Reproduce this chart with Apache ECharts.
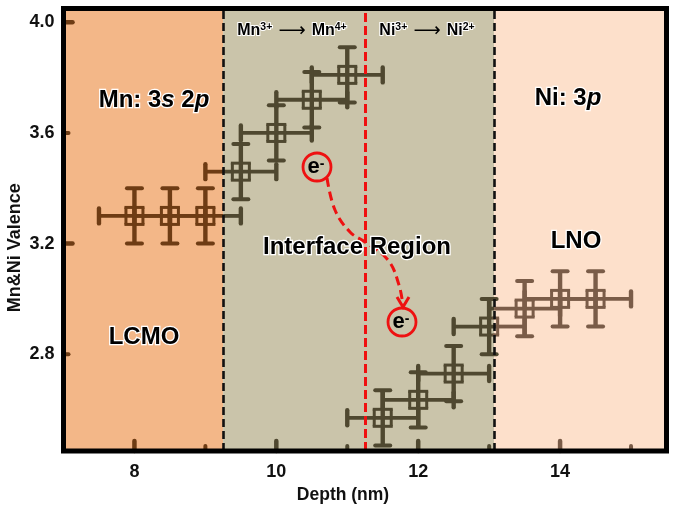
<!DOCTYPE html>
<html><head><meta charset="utf-8">
<style>html,body{margin:0;padding:0;background:#fff}#c{width:675px;height:510px}</style>
<script src="https://cdn.jsdelivr.net/npm/echarts@6/dist/echarts.min.js"></script>
</head><body><div id="c"></div>
<script>
const depthMn = [8, 8.5, 9, 9.5, 10, 10.5, 11];
const valenceMn = [3.3, 3.3, 3.3, 3.46, 3.6, 3.72, 3.81];
const depthNi = [11.5, 12, 12.5, 13, 13.5, 14, 14.5];
const valenceNi = [2.57, 2.635, 2.73, 2.9, 2.965, 3.0, 3.0];
const errDepth = 0.5;
const errValence = 0.1;
const boundaryLeft = 9.25, boundaryRight = 13.07, boundaryRed = 11.25;
const xLabels = [8, 10, 12, 14];
const xMinorTicks = [9, 11, 13, 15];
const yLabels = [2.8, 3.2, 3.6, 4.0];
const yMajorTicks = [3.2, 4.0];
const yMinorTicks = [2.8, 3.6];

const FONT = '"Liberation Sans", Arial, sans-serif';
const cLCMO = '#6e3c14', cIF = '#4f4830', cLNO = '#7a5c48';
const colorAt = x => x < boundaryLeft ? cLCMO : (x < boundaryRight ? cIF : cLNO);

function hSeg(api, x0, x1, y, width, cap) {
  const stops = [x0];
  [boundaryLeft, boundaryRight].forEach(b => { if (b > x0 && b < x1) stops.push(b); });
  stops.push(x1);
  const out = [];
  for (let i = 0; i < stops.length - 1; i++) {
    const a = api.coord([stops[i], y]), b = api.coord([stops[i + 1], y]);
    out.push({type: 'line', shape: {x1: a[0], y1: a[1], x2: b[0], y2: b[1]},
      style: {stroke: colorAt((stops[i] + stops[i + 1]) / 2), lineWidth: width, lineCap: cap || 'butt', fill: null}});
  }
  return out;
}
function errorItem(params, api) {
  const x = api.value(0), y = api.value(1);
  const p = api.coord([x, y]);
  const pL = api.coord([x - errDepth, y]), pR = api.coord([x + errDepth, y]);
  const pT = api.coord([x, y + errValence]), pB = api.coord([x, y - errValence]);
  const kids = [];
  const line = (x1, y1, x2, y2, c, w, cap) => kids.push({type: 'line', shape: {x1, y1, x2, y2},
    style: {stroke: c, lineWidth: w, lineCap: cap || 'butt', fill: null}});
  kids.push(...hSeg(api, x - errDepth, x + errDepth, y, 3.8));
  const cx = colorAt(x), capH = 7.5;
  line(p[0], pT[1], p[0], pB[1], cx, 4.4);
  line(pL[0], p[1] - capH, pL[0], p[1] + capH, colorAt(x - errDepth), 4.4, 'round');
  line(pR[0], p[1] - capH, pR[0], p[1] + capH, colorAt(x + errDepth), 4.4, 'round');
  line(p[0] - capH, pT[1], p[0] + capH, pT[1], cx, 4, 'round');
  line(p[0] - capH, pB[1], p[0] + capH, pB[1], cx, 4, 'round');
  const s = 8.5;
  const dx = s * (errDepth / (pR[0] - p[0]));
  const dy = s * (errValence / (pB[1] - p[1]));
  kids.push(...hSeg(api, x - dx, x + dx, y + dy, 3, 'square'));
  kids.push(...hSeg(api, x - dx, x + dx, y - dy, 3, 'square'));
  line(p[0] - s, p[1] - s, p[0] - s, p[1] + s, colorAt(x - dx), 3);
  line(p[0] + s, p[1] - s, p[0] + s, p[1] + s, colorAt(x + dx), 3);
  return {type: 'group', children: kids};
}
function tickItems(params, api) {
  const cs = params.coordSys, kids = [];
  const bottom = cs.y + cs.height, left = cs.x;
  const add = (x1, y1, x2, y2, c, w) => kids.push({type: 'line', shape: {x1, y1, x2, y2},
    style: {stroke: c, lineWidth: w, lineCap: 'round', fill: null}});
  xLabels.forEach(v => { const px = api.coord([v, 3])[0]; add(px, bottom, px, bottom - 10, colorAt(v), 4.5); });
  xMinorTicks.forEach(v => { const px = api.coord([v, 3])[0]; add(px, bottom, px, bottom - 5, colorAt(v), 4); });
  yMajorTicks.forEach(v => { const py = api.coord([8, v])[1]; add(left, py, left + 9, py, cLCMO, 4.5); });
  yMinorTicks.forEach(v => { const py = api.coord([8, v])[1]; add(left, py, left + 5, py, cLCMO, 4); });
  return {type: 'group', children: kids};
}
function frameItem(params) {
  const cs = params.coordSys;
  return {type: 'rect', shape: {x: cs.x, y: cs.y, width: cs.width, height: cs.height},
    style: {fill: null, stroke: '#000', lineWidth: 5}};
}

const big = {fontFamily: FONT, fontWeight: 'bold', fontSize: 24, fill: '#000', stroke: '#fff', lineWidth: 2.5};
const bigI = Object.assign({}, big, {fontStyle: 'italic'});
const small = {fontFamily: FONT, fontWeight: 'bold', fontSize: 16, fill: '#000', stroke: '#fff', lineWidth: 2, lineHeight: 18, verticalAlign: 'middle'};
const sup = Object.assign({}, small, {fontSize: 10.5, verticalAlign: 'top', lineHeight: 18});
const arrowTok = Object.assign({}, small, {fontFamily: '"DejaVu Sans"', fontWeight: 'normal', fontSize: 19, stroke: 'none', lineWidth: 0});
const richAll = {b: big, i: bigI, s: small, u: sup, a: arrowTok};

function label(x, y, text) {
  return {type: 'text', x, y, z: 100, style: {text, rich: richAll, align: 'center', verticalAlign: 'middle', fill: '#000',
    font: 'bold 24px ' + FONT, stroke: '#fff', lineWidth: 2.5}};
}
function electron(x, y) {
  return [
    {type: 'circle', z: 90, shape: {cx: x, cy: y, r: 14}, style: {fill: 'rgba(255,255,255,0.0)', stroke: '#ee1111', lineWidth: 2.8}},
    {type: 'text', x: x - 1, y: y, z: 100, style: {text: '{e|e}{m|-}', align: 'center', verticalAlign: 'middle',
      rich: {e: {fontFamily: FONT, fontWeight: 'bold', fontSize: 22, fill: '#000', lineHeight: 20, verticalAlign: 'middle'},
             m: {fontFamily: FONT, fontWeight: 'bold', fontSize: 14, fill: '#000', lineHeight: 20, verticalAlign: 'top'}}}}
  ];
}

const chart = echarts.init(document.getElementById('c'), null, {renderer: 'canvas'});
chart.setOption({
  animation: false,
  backgroundColor: '#fff',
  grid: {left: 63.5, right: 8.5, top: 8.5, bottom: 59, show: false, outerBoundsMode: 'none', containLabel: false},
  xAxis: {type: 'value', min: 7, max: 15.5, name: 'Depth (nm)', nameLocation: 'middle', nameGap: 34,
    nameTextStyle: {fontFamily: FONT, fontWeight: 'bold', fontSize: 17.5, color: '#111', padding: [0, 44, 0, 0]},
    axisLine: {show: false}, axisTick: {show: false}, splitLine: {show: false}, minorTick: {show: false},
    axisLabel: {customValues: xLabels, margin: 12, fontFamily: FONT, fontWeight: 'bold', fontSize: 18, color: '#111'}},
  yAxis: {type: 'value', min: 2.45, max: 4.05, name: 'Mn&Ni Valence', nameLocation: 'middle', nameGap: 39, nameMoveOverlap: false,
    nameTextStyle: {fontFamily: FONT, fontWeight: 'bold', fontSize: 18, color: '#111', padding: [0, 36, 0, 0]},
    axisLine: {show: false}, axisTick: {show: false}, splitLine: {show: false},
    axisLabel: {customValues: yLabels, margin: 9, fontFamily: FONT, fontWeight: 'bold', fontSize: 18, color: '#111',
      formatter: v => v.toFixed(1)}},
  graphic: {elements: [
    label(154, 100, '{b|Mn: 3}{i|s}{b| 2}{i|p}'),
    label(568, 98, '{b|Ni: 3}{i|p}'),
    label(144, 337, '{b|LCMO}'),
    label(576, 241, '{b|LNO}'),
    label(357, 247, '{b|Interface Region}'),
    label(292, 31, '{s|Mn}{u|3+}{a| ⟶ }{s|Mn}{u|4+}'),
    label(427, 31, '{s|Ni}{u|3+}{a| ⟶ }{s|Ni}{u|2+}'),
    ...electron(317, 167),
    ...electron(402, 322),
    {type: 'polyline', z: 80, shape: {points: [[327, 178], [335, 210], [350, 232], [365, 242], [388, 260], [399, 285], [403, 306]], smooth: 0.4},
      style: {fill: null, stroke: '#ee1111', lineWidth: 3, lineDash: [9, 5]}},
    {type: 'polyline', z: 81, shape: {points: [[397, 297], [403, 307], [409, 297]]},
      style: {fill: null, stroke: '#ee1111', lineWidth: 3}}
  ]},
  series: [
    {type: 'custom', name: 'regions', z: 1, coordinateSystem: 'cartesian2d', data: [], renderItem: () => null,
      markArea: {silent: true, z: 1, label: {show: false}, data: [
        [{xAxis: 7, itemStyle: {color: '#f3b788', opacity: 1}}, {xAxis: boundaryLeft}],
        [{xAxis: boundaryLeft, itemStyle: {color: '#cac4aa', opacity: 1}}, {xAxis: boundaryRight}],
        [{xAxis: boundaryRight, itemStyle: {color: '#fde0cb', opacity: 1}}, {xAxis: 15.5}]
      ]}},
    {type: 'custom', name: 'Mn', z: 3, renderItem: errorItem, encode: {x: 0, y: 1},
      data: depthMn.map((d, i) => [d, valenceMn[i]])},
    {type: 'custom', name: 'Ni', z: 3, renderItem: errorItem, encode: {x: 0, y: 1},
      data: depthNi.map((d, i) => [d, valenceNi[i]])},
    {type: 'custom', name: 'ticks', z: 4, renderItem: tickItems, data: [[8, 3]], encode: {x: 0, y: 1}},
    {type: 'line', name: 'boundaries', z: 5, data: [], symbol: 'none',
      markLine: {silent: true, symbol: 'none', label: {show: false}, animation: false, data: [
        {xAxis: boundaryLeft, lineStyle: {color: '#111', width: 2.6, type: [8, 4]}},
        {xAxis: boundaryRight, lineStyle: {color: '#111', width: 2.6, type: [8, 4]}},
        {xAxis: boundaryRed, lineStyle: {color: '#f01010', width: 3, type: [9, 4]}}
      ]}},
    {type: 'custom', name: 'frame', z: 6, renderItem: frameItem, data: [[8, 3]], encode: {x: 0, y: 1}}
  ]
});
</script></body></html>
